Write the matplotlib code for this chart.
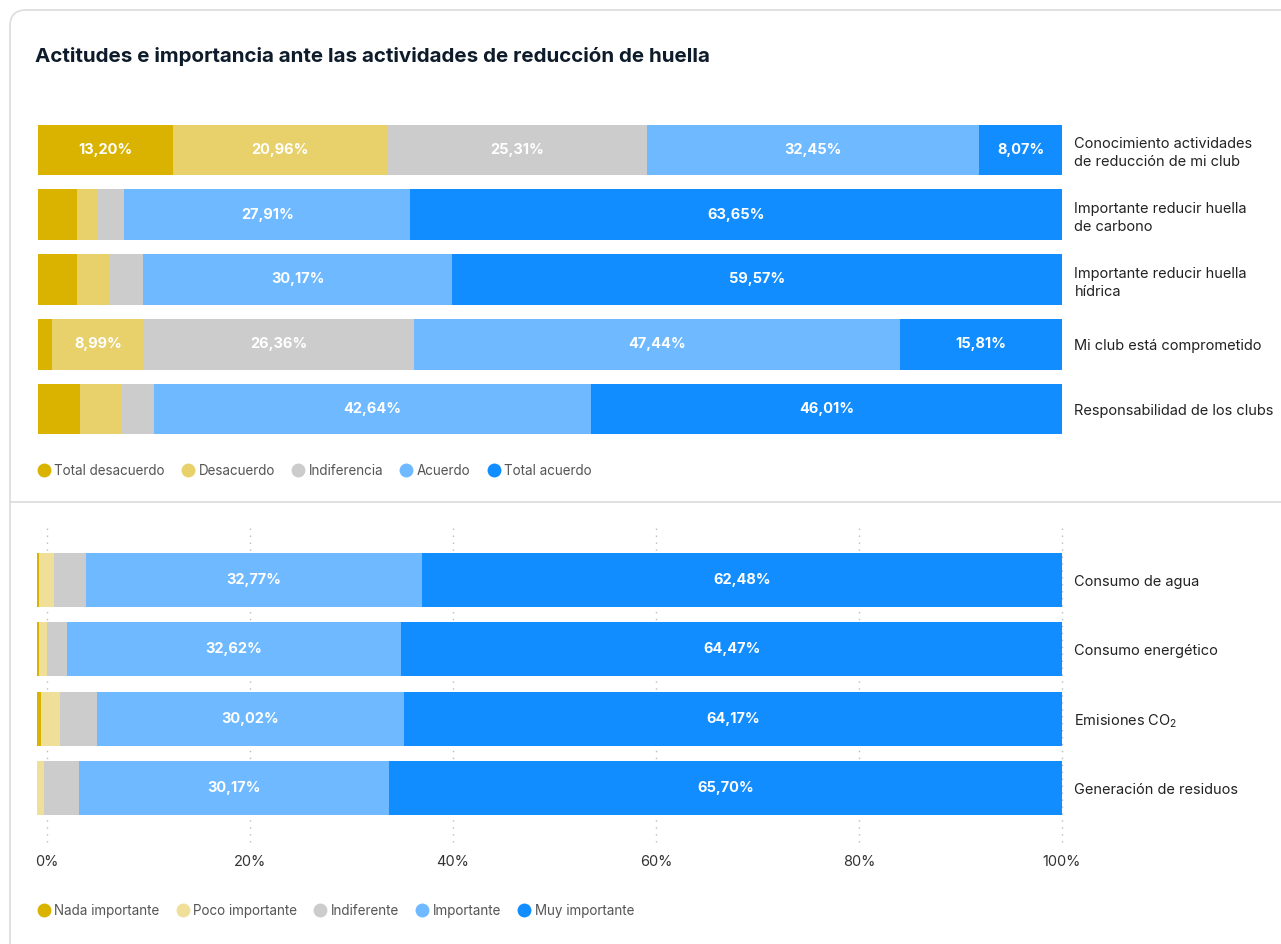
import numpy as np
import matplotlib.pyplot as plt
from matplotlib.lines import Line2D
from matplotlib.patches import FancyBboxPatch

plt.rcParams['font.family'] = ['Inter', 'DejaVu Sans']
plt.rcParams['mathtext.default'] = 'regular'

titulo = "Actitudes e importancia ante las actividades de reducción de huella"

# bloque 1: actitudes
actitudes = ["Conocimiento actividades\nde reducción de mi club",
             "Importante reducir huella\nde carbono",
             "Importante reducir huella\nhídrica",
             "Mi club está comprometido",
             "Responsabilidad de los clubs"]
niveles_acuerdo = ["Total desacuerdo", "Desacuerdo", "Indiferencia", "Acuerdo", "Total acuerdo"]
total_desacuerdo = [13.20, 3.81, 3.81, 1.40, 4.10]
desacuerdo = [20.96, 2.05, 3.22, 8.99, 4.02]
indiferencia = [25.31, 2.58, 3.23, 26.36, 3.23]
acuerdo = [32.45, 27.91, 30.17, 47.44, 42.64]
total_acuerdo = [8.07, 63.65, 59.57, 15.81, 46.01]

# bloque 2: importancia
recursos = ["Consumo de agua", "Consumo energético", "Emisiones CO$_2$", "Generación de residuos"]
niveles_importancia = ["Nada importante", "Poco importante", "Indiferente", "Importante", "Muy importante"]
nada_importante = [0.15, 0.15, 0.41, 0.0]
poco_importante = [1.55, 0.80, 1.88, 0.68]
indiferente = [3.05, 1.96, 3.52, 3.45]
importante = [32.77, 32.62, 30.02, 30.17]
muy_importante = [62.48, 64.47, 64.17, 65.70]

colores_top = ['#DAB300', '#E8D06B', '#CCCCCC', '#6EB9FF', '#128DFF']
colores_bot = ['#DAB300', '#EFDF98', '#CCCCCC', '#6EB9FF', '#128DFF']

W, H = 1281, 944


def pct(v):
    return f"{v:.2f}%".replace(".", ",")


def barras_apiladas(ax, etiquetas, series, colores, alto):
    y = np.arange(len(etiquetas))
    izq = np.zeros(len(etiquetas))
    for valores, color in zip(series, colores):
        valores = np.array(valores, dtype=float)
        ax.barh(y, valores, left=izq, height=alto, color=color, linewidth=0)
        for yi, x0, v in zip(y, izq, valores):
            if v >= 5:
                ax.text(x0 + v / 2, yi, pct(v), ha='center', va='center',
                        color='white', fontsize=10.5, fontweight='bold')
        izq += valores
    ax.set_xlim(0, 100)
    ax.set_ylim(len(etiquetas) - 0.5, -0.5)
    ax.yaxis.tick_right()
    ax.set_yticks(y)
    ax.set_yticklabels(etiquetas, fontsize=10.5, color='#222222', linespacing=1.35)
    ax.tick_params(axis='y', length=0, pad=9)
    ax.set_xticks([])
    for s in ax.spines.values():
        s.set_visible(False)
    ax.patch.set_visible(False)


def leyenda(fig, nombres, colores, y_px):
    handles = [Line2D([], [], marker='o', linestyle='none', markersize=10,
                      markerfacecolor=c, markeredgewidth=0) for c in colores]
    fig.legend(handles, nombres, loc='center left', bbox_to_anchor=(39 / W, 1 - y_px / H),
               ncol=5, frameon=False, handlelength=0.7, handletextpad=0.45,
               columnspacing=1.35, fontsize=9.7, labelcolor='#555555',
               borderpad=0, borderaxespad=0)


fig = plt.figure(figsize=(W / 100, H / 100), dpi=100)

# tarjeta de fondo
ax_bg = fig.add_axes([0, 0, 1, 1])
ax_bg.set_xlim(0, W)
ax_bg.set_ylim(H, 0)
ax_bg.axis('off')
ax_bg.add_patch(FancyBboxPatch((10, 10), 1400, 1100, boxstyle="round,pad=0,rounding_size=16",
                               fc='white', ec='#DCDCDC', lw=1.2))
ax_bg.plot([10, W], [502, 502], color='#DCDCDC', lw=1.2)

fig.text(35 / W, 1 - 57 / H, titulo, fontsize=14.8, fontweight='bold',
         color='#0D1B2A', va='center')

# gráfico superior
ax1 = fig.add_axes([38 / W, 1 - 441.5 / H, 1024 / W, 324 / H])
barras_apiladas(ax1, actitudes,
                [total_desacuerdo, desacuerdo, indiferencia, acuerdo, total_acuerdo],
                colores_top, 0.78)
leyenda(fig, niveles_acuerdo, colores_top, 471)

# rejilla del gráfico inferior
ax_g = fig.add_axes([47 / W, 1 - 842 / H, 1015 / W, 317 / H])
ax_g.set_xlim(0, 100)
ax_g.set_xticks(np.arange(0, 101, 20))
ax_g.set_xticklabels([f"{t}%" for t in range(0, 101, 20)], fontsize=10.5, color='#333333')
ax_g.set_yticks([])
ax_g.tick_params(axis='x', length=0, pad=9)
ax_g.grid(axis='x', color='#BBBBBB', linestyle=(0, (1, 4)), lw=1)
for linea in ax_g.get_xgridlines():
    linea.set_clip_on(False)
for s in ax_g.spines.values():
    s.set_visible(False)
ax_g.patch.set_visible(False)

# gráfico inferior
ax2 = fig.add_axes([37 / W, 1 - 822.7 / H, 1025 / W, 277.3 / H])
barras_apiladas(ax2, recursos,
                [nada_importante, poco_importante, indiferente, importante, muy_importante],
                colores_bot, 0.78)
leyenda(fig, niveles_importancia, colores_bot, 911)

fig.savefig("out.png", dpi=100)
